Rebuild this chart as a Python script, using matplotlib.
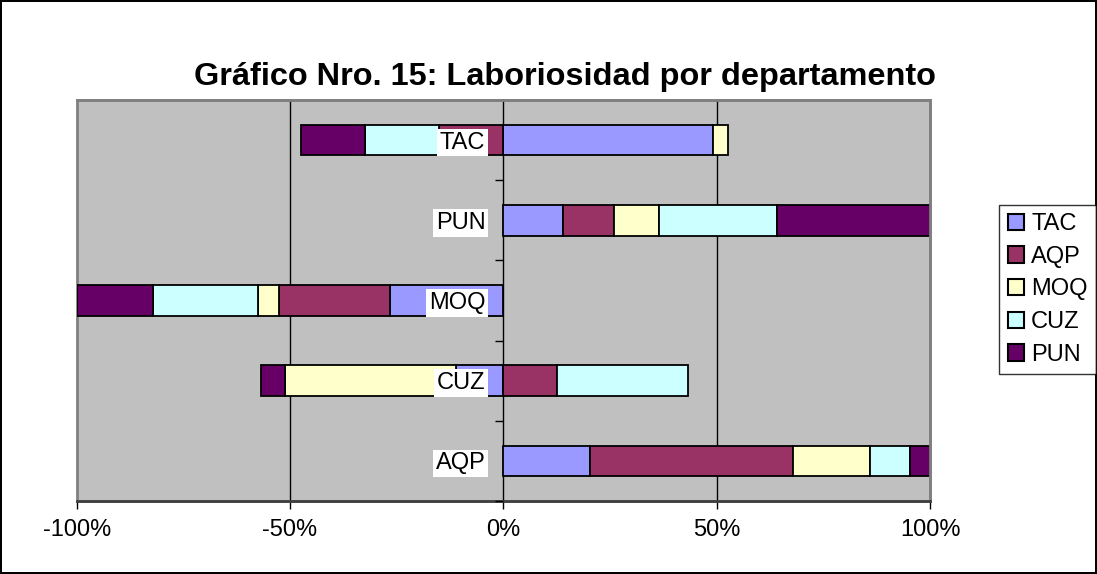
import numpy as np
import matplotlib.pyplot as plt
from matplotlib.ticker import FuncFormatter, FixedLocator

plt.rcParams['font.family'] = ['Liberation Sans', 'DejaVu Sans']

# categories bottom -> top, share of each department (%)
categories = ['AQP', 'CUZ', 'MOQ', 'PUN', 'TAC']
series = ['TAC', 'AQP', 'MOQ', 'CUZ', 'PUN']
tac = [20.4, -11.0, -26.6, 13.9, 49.2]
aqp = [47.4, 12.5, -25.9, 12.0, -15.0]
moq = [18.1, -40.1, -5.0, 10.6, 3.4]
cuz = [9.5, 30.8, -24.5, 27.7, -17.4]
pun = [4.6, -5.6, -18.0, 35.8, -15.0]
colors = ['#9999FF', '#993366', '#FFFFCC', '#CCFFFF', '#660066']

fig = plt.figure(figsize=(10.97, 5.74), dpi=100)
fig.patch.set_edgecolor('black')
fig.patch.set_linewidth(1.5)
ax = fig.add_axes([0.0699, 0.1272, 0.7779, 0.6986])
ax.set_facecolor('#C0C0C0')

y = np.arange(len(categories))
pos_left = np.zeros(len(categories))
neg_left = np.zeros(len(categories))
for name, vals, col in zip(series, [tac, aqp, moq, cuz, pun], colors):
    v = np.array(vals)
    left = np.where(v >= 0, pos_left, neg_left)
    ax.barh(y, v, left=left, height=0.38, color=col, edgecolor='black',
            linewidth=1.3, label=name, zorder=1.2)
    pos_left = pos_left + np.where(v >= 0, v, 0)
    neg_left = neg_left + np.where(v < 0, v, 0)

ax.set_xlim(-100, 100)
ax.set_ylim(-0.5, len(categories) - 0.5)
ax.set_xticks([-100, -50, 0, 50, 100])
ax.xaxis.set_major_formatter(FuncFormatter(lambda x, p: f'{x:.0f}%'))
ax.tick_params(axis='x', length=6, width=1, pad=7, labelsize=17, color='black')

for t in [-50, 50]:
    ax.axvline(t, color='black', linewidth=1, zorder=1)

# category axis crosses at 0
ax.spines['left'].set_position(('data', 0))
ax.spines['left'].set_color('black')
ax.spines['left'].set_linewidth(1)
ax.spines['left'].set_zorder(1)
ax.set_yticks(y)
ax.set_yticklabels(categories)
ax.yaxis.set_minor_locator(FixedLocator(np.arange(-0.5, len(categories) - 0.5, 1)))
ax.tick_params(axis='y', which='major', length=0, pad=13, labelsize=17)
ax.tick_params(axis='y', which='minor', length=6, width=1, color='black')
ax.yaxis.set_zorder(3)
for lab in ax.get_yticklabels():
    lab.set_bbox(dict(facecolor='white', edgecolor='none', pad=2))

for s in ['top', 'right']:
    ax.spines[s].set_color('#808080')
    ax.spines[s].set_linewidth(2)
ax.spines['bottom'].set_color('#404040')
ax.spines['bottom'].set_linewidth(2)
ax.patch.set_edgecolor('#808080')
ax.patch.set_linewidth(2)

fig.text(0.515, 0.866, 'Gráfico Nro. 15: Laboriosidad por departamento',
         ha='center', va='center', fontsize=23.4, fontweight='bold')

leg = fig.legend(loc='upper left', bbox_to_anchor=(0.911, 0.643), fontsize=17,
                 frameon=True, fancybox=False, edgecolor='black',
                 handlelength=0.7, handleheight=0.7, handletextpad=0.3,
                 labelspacing=0.45, borderpad=0.35, borderaxespad=0)
leg.get_frame().set_linewidth(1)
for h in leg.legend_handles:
    h.set_linewidth(1.5)

fig.savefig('out.png', dpi=100)
